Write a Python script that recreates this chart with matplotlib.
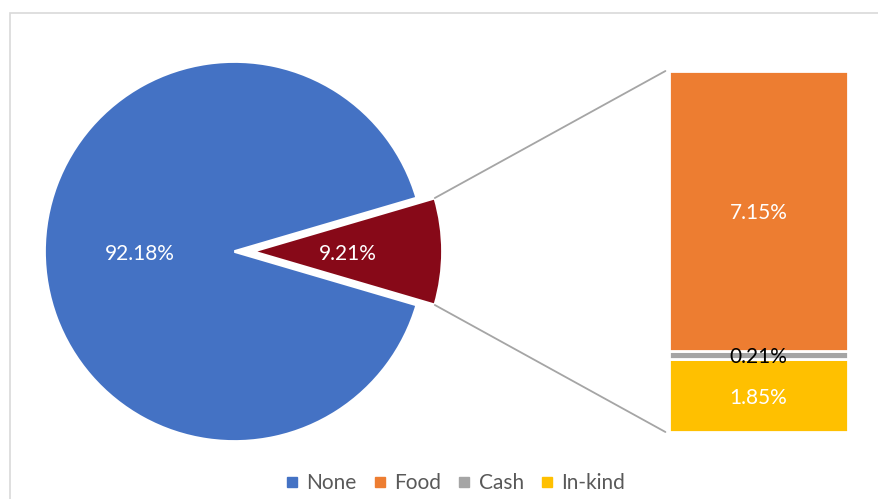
import numpy as np
import matplotlib
matplotlib.use("Agg")
import matplotlib.pyplot as plt
from matplotlib.patches import ConnectionPatch, Rectangle
from matplotlib.lines import Line2D

plt.rcParams['font.family'] = ['Lato', 'DejaVu Sans']

# pie: share with no assistance vs. share receiving any
pie_labels = ['Assisted', 'None']
pie_values = [9.21, 92.18]
pie_colors = ['#870918', '#4472C4']

# breakdown of assisted share (bottom to top in the bar)
bar_labels = ['In-kind', 'Cash', 'Food']
bar_values = [1.85, 0.21, 7.15]
bar_colors = ['#FFC000', '#A5A5A5', '#ED7D31']
bar_text_colors = ['white', 'black', 'white']

legend_labels = ['None', 'Food', 'Cash', 'In-kind']
legend_colors = ['#4472C4', '#ED7D31', '#A5A5A5', '#FFC000']

W, H = 879, 499
fig = plt.figure(figsize=(W / 100, H / 100), dpi=100)

# light chart-area frame
fig.add_artist(Rectangle((9.5 / W, -0.1), 1.2, (H - 13.5) / H + 0.1,
                         transform=fig.transFigure, fill=False,
                         edgecolor='#D9D9D9', linewidth=1.2))

# ---- pie ----
ax_pie = fig.add_axes([34.5 / W, 47.5 / H, 400 / W, 400 / H])
red_angle = 360 * pie_values[0] / sum(pie_values)
explode = [0.09, 0.0]
radius = 0.95
wedges, _ = ax_pie.pie(pie_values, colors=pie_colors, explode=explode,
                       startangle=-red_angle / 2, radius=radius,
                       wedgeprops=dict(edgecolor='white', linewidth=2))
ax_pie.set_xlim(-1, 1)
ax_pie.set_ylim(-1, 1)
ax_pie.axis('off')

label_dist = [0.50, 0.50]
for w, v, d in zip(wedges, pie_values, label_dist):
    mid = np.deg2rad((w.theta1 + w.theta2) / 2)
    cx, cy = w.center
    ax_pie.text(cx + d * radius * np.cos(mid), cy + d * radius * np.sin(mid),
                f'{v:.2f}%', ha='center', va='center_baseline', color='white',
                fontsize=15)

# ---- stacked bar ----
ax_bar = fig.add_axes([669 / W, 67 / H, 179 / W, 361 / H])
bottom = 0
for v, c, tc in zip(bar_values, bar_colors, bar_text_colors):
    ax_bar.bar(0, v, width=1, bottom=bottom, color=c,
               edgecolor='white', linewidth=2)
    ax_bar.text(0, bottom + v / 2, f'{v:.2f}%', ha='center',
                va='center_baseline', color=tc, fontsize=15)
    bottom += v
ax_bar.set_xlim(-0.5, 0.5)
ax_bar.set_ylim(0, bottom)
ax_bar.axis('off')

# connector lines from the exploded slice to the bar
red = wedges[0]
cx, cy = red.center
for theta, y_end in [(red.theta2, bottom), (red.theta1, 0)]:
    t = np.deg2rad(theta)
    con = ConnectionPatch(xyA=(-0.52, y_end), coordsA=ax_bar.transData,
                          xyB=(cx + radius * np.cos(t), cy + radius * np.sin(t)),
                          coordsB=ax_pie.transData,
                          color='#A5A5A5', linewidth=1.3)
    fig.add_artist(con)

# legend
handles = [Line2D([], [], marker='s', linestyle='none', markersize=7,
                  markerfacecolor=c, markeredgecolor=c) for c in legend_colors]
fig.legend(handles, legend_labels, loc='center', bbox_to_anchor=(455 / W, 16 / H),
           ncol=4, frameon=False, fontsize=15, labelcolor='#595959',
           handlelength=0.7, handletextpad=0.35, columnspacing=0.75)

fig.savefig('out.png', dpi=100)
